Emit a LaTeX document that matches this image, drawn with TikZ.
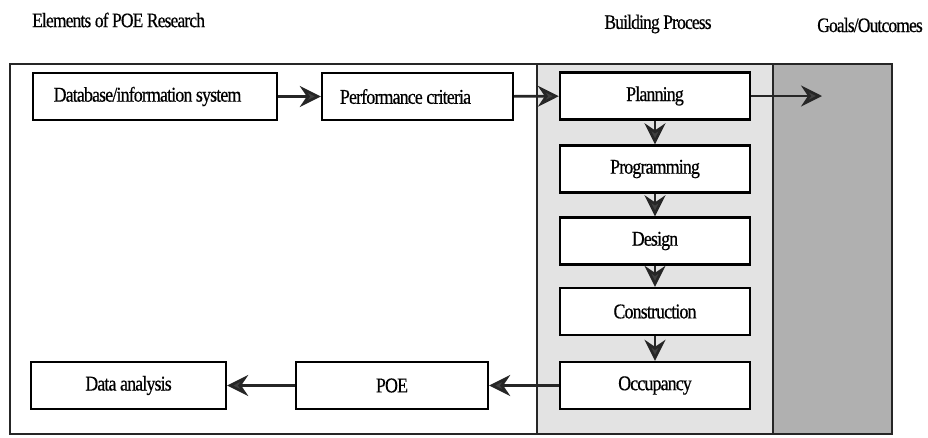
\documentclass[tikz,border=0pt]{standalone}
\usepackage{fontspec}
\setmainfont{Liberation Serif}[FakeStretch=0.85, LetterSpace=-4, FakeBold=0.5]
\usetikzlibrary{arrows.meta}

\tikzset{
  stagebox/.style={draw=black, line width=2.4pt, fill=white, inner sep=0pt,
    minimum height=47pt, font=\fontsize{21}{24}\selectfont},
  heading/.style={inner sep=0pt, font=\fontsize{20.5}{24}\selectfont},
  flow/.style={draw=black!85, line width=2.6pt,
    -{Stealth[length=21pt, width=21pt, inset=7pt, fill=black!75]}},
  frame/.style={draw=black!85, line width=1.8pt}
}

\begin{document}
\begin{tikzpicture}[x=1pt, y=-1pt]
  \useasboundingbox (0,0) rectangle (928,437);

  % column backgrounds
  \fill[gray!22] (537,64) rectangle (773,434);
  \fill[gray!62] (773,64) rectangle (892,434);
  \draw[frame] (10,64) rectangle (892,434);
  \draw[frame] (537,64) -- (537,434);
  \draw[frame] (773,64) -- (773,434);

  % column headings
  \node[heading, anchor=west] (hElem) at (32,20) {Elements of POE Research};
  \node[heading] (hBuild) at (658,24) {Building Process};
  \node[heading] (hGoals) at (870,25) {Goals/Outcomes};

  % POE research elements
  \node[stagebox, minimum width=244pt] (db) at (155,96.5) {\hspace*{-15pt}Database/information system};
  \node[stagebox, minimum width=191pt] (perf) at (417.5,96.5) {\hspace*{-24pt}Performance criteria};
  \node[stagebox, minimum width=192pt] (poe) at (392,385.5) {POE};
  \node[stagebox, minimum width=195pt] (data) at (128.5,385.5) {Data analysis};

  % building process stages
  \node[stagebox, minimum width=190pt] (plan) at (655,96) {Planning};
  \node[stagebox, minimum width=190pt] (prog) at (655,169) {Programming};
  \node[stagebox, minimum width=190pt] (design) at (655,241) {Design};
  \node[stagebox, minimum width=190pt] (constr) at (655,311.5) {Construction};
  \node[stagebox, minimum width=190pt] (occ) at (655,385.5) {Occupancy};

  \coordinate (goal) at (822,96);

  % connectors
  \draw[flow] (db) -- (perf);
  \draw[flow] (perf) -- (plan);
  \draw[flow] (plan) -- (goal);
  \draw[flow] (plan) -- (prog);
  \draw[flow] (prog) -- (design);
  \draw[flow] (design) -- (constr);
  \draw[flow] (constr) -- (occ);
  \draw[flow] (occ) -- (poe);
  \draw[flow] (poe) -- (data);
\end{tikzpicture}
\end{document}
